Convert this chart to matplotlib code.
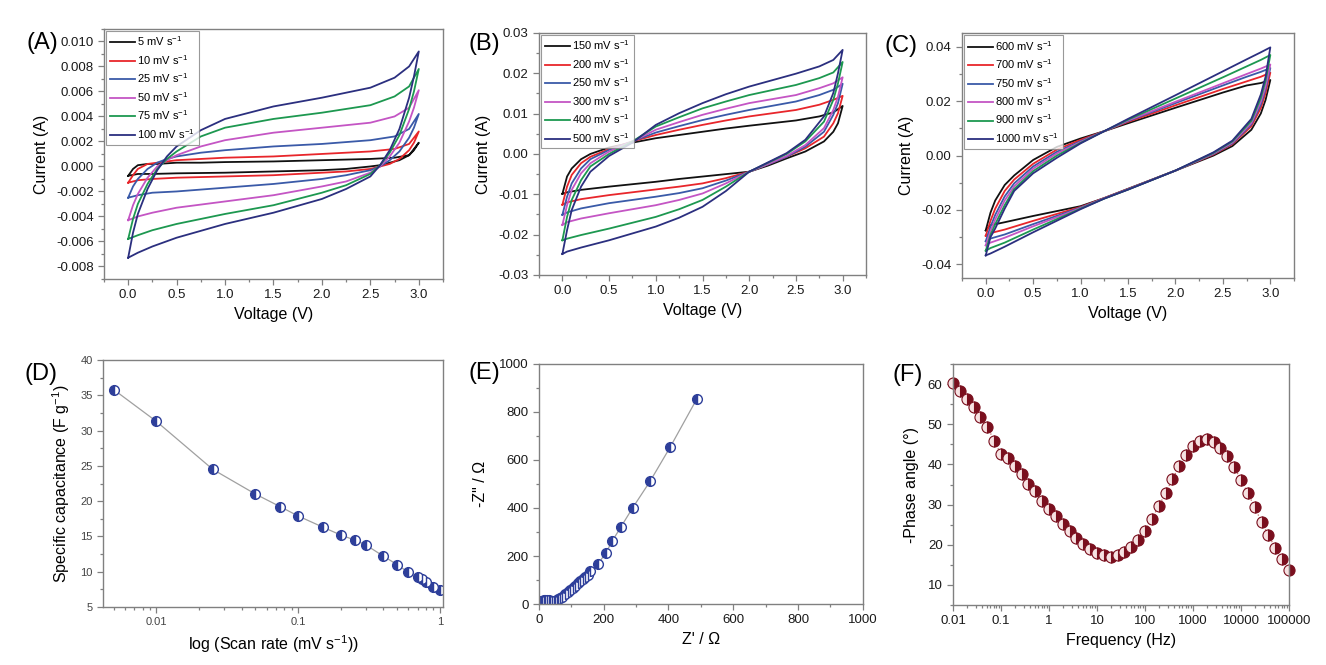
import matplotlib
matplotlib.use('Agg')
import matplotlib.pyplot as plt
from matplotlib.ticker import MultipleLocator, FormatStrFormatter, FixedLocator, FixedFormatter, LogLocator, NullFormatter

plt.rcParams['font.family'] = ['Liberation Sans', 'DejaVu Sans']
plt.rcParams['axes.unicode_minus'] = False
plt.rcParams['mathtext.fontset'] = 'custom'
plt.rcParams['mathtext.rm'] = 'Liberation Sans'
plt.rcParams['mathtext.it'] = 'Liberation Sans:italic'
plt.rcParams['mathtext.bf'] = 'Liberation Sans:bold'
plt.rcParams['mathtext.default'] = 'regular'

# colours of the six CV curves in each panel
cv_colors = ['#111111', '#e8262b', '#3a5aa8', '#c455c4', '#1d9850', '#2b2f7f']

# ---- (A) 5 - 100 mV/s ----
a_labels = ['5', '10', '25', '50', '75', '100']
a_v_up = [0, 0.05, 0.1, 0.2, 0.3, 0.4, 0.5, 0.75, 1.0, 1.5, 2.0, 2.5, 2.75, 2.9, 3.0]
a_v_down = [3.0, 2.95, 2.9, 2.8, 2.7, 2.6, 2.5, 2.25, 2.0, 1.5, 1.0, 0.5, 0.25, 0.1, 0.0]
a_up = [
    [-0.00075, -0.0002, 0.0001, 0.0002, 0.0002, 0.00025, 0.0003, 0.0003, 0.00035, 0.0004, 0.0005, 0.0006, 0.0007, 0.0009, 0.0019],
    [-0.0013, -0.0007, -0.0002, 0.0002, 0.0003, 0.0004, 0.0005, 0.0006, 0.0007, 0.0008, 0.0010, 0.0012, 0.0014, 0.0018, 0.0028],
    [-0.0025, -0.0016, -0.0010, -0.0002, 0.0003, 0.0006, 0.0008, 0.0011, 0.0013, 0.0016, 0.0018, 0.0021, 0.0024, 0.0030, 0.0042],
    [-0.0043, -0.0031, -0.0022, -0.0009, 0.0000, 0.0005, 0.0009, 0.0016, 0.0021, 0.0027, 0.0031, 0.0035, 0.0040, 0.0047, 0.0061],
    [-0.0058, -0.0042, -0.0030, -0.0014, -0.0002, 0.0006, 0.0012, 0.0024, 0.0031, 0.0038, 0.0043, 0.0049, 0.0056, 0.0064, 0.0078],
    [-0.0073, -0.0053, -0.0038, -0.0018, -0.0003, 0.0008, 0.0016, 0.0029, 0.0038, 0.0048, 0.0055, 0.0063, 0.0071, 0.0080, 0.0092],
]
a_down = [
    [0.0019, 0.0013, 0.0009, 0.0005, 0.0003, 0.0001, 0.0000, -0.0002, -0.0003, -0.0004, -0.0005, -0.00055, -0.0006, -0.0006, -0.00075],
    [0.0028, 0.0019, 0.0013, 0.0006, 0.0002, 0.0000, -0.0002, -0.0004, -0.0005, -0.0007, -0.0008, -0.0009, -0.0010, -0.0011, -0.0013],
    [0.0042, 0.0031, 0.0023, 0.0012, 0.0005, 0.0000, -0.0003, -0.0007, -0.0010, -0.0014, -0.0017, -0.0020, -0.0021, -0.0023, -0.0025],
    [0.0061, 0.0047, 0.0036, 0.0019, 0.0008, 0.0000, -0.0005, -0.0012, -0.0016, -0.0023, -0.0028, -0.0033, -0.0037, -0.0040, -0.0043],
    [0.0078, 0.0060, 0.0046, 0.0025, 0.0011, 0.0001, -0.0006, -0.0015, -0.0021, -0.0031, -0.0038, -0.0046, -0.0051, -0.0055, -0.0058],
    [0.0092, 0.0072, 0.0055, 0.0030, 0.0013, 0.0001, -0.0008, -0.0018, -0.0026, -0.0037, -0.0046, -0.0057, -0.0064, -0.0069, -0.0073],
]

# ---- (B) 150 - 500 mV/s ----
b_labels = ['150', '200', '250', '300', '400', '500']
b_v_up = [0, 0.05, 0.1, 0.2, 0.3, 0.5, 0.75, 1.0, 1.25, 1.5, 1.75, 2.0, 2.5, 2.75, 2.9, 3.0]
b_v_down = [3.0, 2.95, 2.9, 2.8, 2.6, 2.4, 2.2, 2.0, 1.75, 1.5, 1.25, 1.0, 0.5, 0.2, 0.05, 0.0]
b_up = [
    [-0.0099, -0.0056, -0.0036, -0.0013, 0.0000, 0.0016, 0.0028, 0.0039, 0.0047, 0.0055, 0.0063, 0.0070, 0.0083, 0.0093, 0.0103, 0.0119],
    [-0.0126, -0.0081, -0.0052, -0.0023, -0.0007, 0.0012, 0.0031, 0.0047, 0.0060, 0.0072, 0.0083, 0.0093, 0.0109, 0.0122, 0.0134, 0.0144],
    [-0.0151, -0.0106, -0.0073, -0.0036, -0.0013, 0.0010, 0.0031, 0.0053, 0.0069, 0.0084, 0.0097, 0.0109, 0.0130, 0.0146, 0.0159, 0.0174],
    [-0.0176, -0.0127, -0.0089, -0.0048, -0.0023, 0.0006, 0.0031, 0.0060, 0.0079, 0.0097, 0.0112, 0.0126, 0.0146, 0.0163, 0.0175, 0.0190],
    [-0.0214, -0.0156, -0.0114, -0.0065, -0.0031, 0.0000, 0.0031, 0.0068, 0.0091, 0.0113, 0.0130, 0.0146, 0.0171, 0.0188, 0.0202, 0.0228],
    [-0.0248, -0.0189, -0.0139, -0.0081, -0.0044, -0.0005, 0.0028, 0.0072, 0.0101, 0.0126, 0.0148, 0.0167, 0.0199, 0.0217, 0.0233, 0.0258],
]
b_down = [
    [0.0119, 0.0076, 0.0055, 0.0031, 0.0006, -0.0011, -0.0029, -0.0044, -0.0050, -0.0056, -0.0062, -0.0069, -0.0081, -0.0089, -0.0095, -0.0099],
    [0.0144, 0.0101, 0.0076, 0.0043, 0.0014, -0.0007, -0.0026, -0.0044, -0.0060, -0.0073, -0.0081, -0.0088, -0.0102, -0.0112, -0.0120, -0.0126],
    [0.0174, 0.0126, 0.0097, 0.0055, 0.0018, -0.0007, -0.0026, -0.0044, -0.0066, -0.0085, -0.0097, -0.0106, -0.0122, -0.0135, -0.0145, -0.0151],
    [0.0190, 0.0142, 0.0109, 0.0064, 0.0022, -0.0005, -0.0025, -0.0044, -0.0073, -0.0098, -0.0114, -0.0127, -0.0147, -0.0160, -0.0169, -0.0176],
    [0.0228, 0.0175, 0.0134, 0.0080, 0.0031, 0.0000, -0.0022, -0.0044, -0.0081, -0.0114, -0.0137, -0.0156, -0.0185, -0.0201, -0.0210, -0.0214],
    [0.0258, 0.0200, 0.0151, 0.0093, 0.0035, 0.0002, -0.0021, -0.0044, -0.0092, -0.0131, -0.0158, -0.0180, -0.0214, -0.0232, -0.0242, -0.0248],
]

# ---- (C) 600 - 1000 mV/s ----
c_labels = ['600', '700', '750', '800', '900', '1000']
c_v_up = [0, 0.05, 0.1, 0.2, 0.3, 0.5, 0.75, 1.0, 1.25, 1.5, 2.0, 2.5, 2.75, 2.9, 3.0]
c_v_down = [3.0, 2.95, 2.9, 2.8, 2.6, 2.4, 2.0, 1.5, 1.25, 1.0, 0.5, 0.2, 0.05, 0.0]
c_up = [
    [-0.0275, -0.0210, -0.0165, -0.0108, -0.0073, -0.0016, 0.0032, 0.0063, 0.0090, 0.0119, 0.0176, 0.0232, 0.0258, 0.0267, 0.0278],
    [-0.0295, -0.0240, -0.0195, -0.0130, -0.0088, -0.0030, 0.0022, 0.0058, 0.0090, 0.0124, 0.0185, 0.0245, 0.0273, 0.0290, 0.0305],
    [-0.0315, -0.0262, -0.0218, -0.0150, -0.0102, -0.0040, 0.0014, 0.0053, 0.0090, 0.0127, 0.0193, 0.0258, 0.0290, 0.0308, 0.0322],
    [-0.0330, -0.0278, -0.0235, -0.0165, -0.0113, -0.0048, 0.0008, 0.0050, 0.0090, 0.0129, 0.0198, 0.0266, 0.0300, 0.0320, 0.0335],
    [-0.0350, -0.0292, -0.0252, -0.0182, -0.0123, -0.0057, 0.0000, 0.0047, 0.0090, 0.0132, 0.0210, 0.0288, 0.0328, 0.0352, 0.0370],
    [-0.0367, -0.0300, -0.0268, -0.0195, -0.0130, -0.0065, -0.0008, 0.0045, 0.0090, 0.0135, 0.0222, 0.0310, 0.0354, 0.0380, 0.0398],
]
c_down = [
    [0.0278, 0.0205, 0.0155, 0.0095, 0.0035, 0.0000, -0.0055, -0.0122, -0.0156, -0.0186, -0.0222, -0.0245, -0.0256, -0.0275],
    [0.0305, 0.0230, 0.0175, 0.0108, 0.0042, 0.0004, -0.0055, -0.0123, -0.0156, -0.0189, -0.0240, -0.0272, -0.0285, -0.0295],
    [0.0322, 0.0245, 0.0188, 0.0115, 0.0045, 0.0006, -0.0055, -0.0124, -0.0157, -0.0191, -0.0252, -0.0290, -0.0305, -0.0315],
    [0.0335, 0.0255, 0.0198, 0.0120, 0.0048, 0.0008, -0.0055, -0.0124, -0.0157, -0.0193, -0.0260, -0.0302, -0.0320, -0.0330],
    [0.0370, 0.0275, 0.0212, 0.0128, 0.0052, 0.0010, -0.0055, -0.0125, -0.0158, -0.0195, -0.0272, -0.0320, -0.0340, -0.0350],
    [0.0398, 0.0290, 0.0225, 0.0135, 0.0055, 0.0012, -0.0055, -0.0125, -0.0158, -0.0197, -0.0282, -0.0335, -0.0360, -0.0367],
]

# ---- (D) specific capacitance vs scan rate ----
d_rate = [0.005, 0.01, 0.025, 0.05, 0.075, 0.1, 0.15, 0.2, 0.25, 0.3, 0.4, 0.5, 0.6, 0.7, 0.75, 0.8, 0.9, 1.0]
d_cap = [35.8, 31.3, 24.5, 21.0, 19.2, 17.9, 16.3, 15.2, 14.5, 13.8, 12.2, 11.0, 9.9, 9.2, 8.9, 8.5, 7.9, 7.4]

# ---- (E) Nyquist ----
e_zre = [5, 10, 15, 20, 25, 30, 35, 40, 45, 50, 55, 60, 65, 72, 80, 88, 96, 104, 111, 120, 127, 135, 142, 150,
         158, 183, 206, 227, 253, 289, 343, 405, 487]
e_zim = [12, 14, 15, 15, 16, 15, 14, 13, 13, 14, 16, 19, 24, 31, 40, 49, 58, 67, 76, 86, 94, 103, 112, 122,
         136, 168, 212, 264, 321, 400, 511, 653, 853]

# ---- (F) Bode phase ----
f_freq = [0.01, 0.0139, 0.0193, 0.0268, 0.0373, 0.0518, 0.072, 0.1, 0.139, 0.193, 0.268, 0.373, 0.518, 0.72,
          1, 1.39, 1.93, 2.68, 3.73, 5.18, 7.2, 10, 13.9, 19.3, 26.8, 37.3, 51.8, 72, 100, 139, 193, 268, 373,
          518, 720, 1000, 1390, 1930, 2680, 3730, 5180, 7200, 10000, 13900, 19300, 26800, 37300, 51800, 72000, 100000]
f_phase = [60.2, 58.2, 56.3, 54.3, 51.8, 49.4, 45.9, 42.5, 41.6, 39.6, 37.5, 35.2, 33.5, 30.9, 29.0, 27.1, 25.2,
           23.4, 21.8, 20.3, 19.0, 18.0, 17.4, 17.0, 17.4, 18.2, 19.5, 21.3, 23.5, 26.5, 29.6, 32.9, 36.4, 39.6,
           42.4, 44.5, 45.9, 46.3, 45.7, 44.2, 42.0, 39.3, 36.2, 32.8, 29.4, 25.6, 22.4, 19.2, 16.4, 13.7]

AX_GRAY = '#808080'
TICK_FS = 9.5
LABEL_FS = 11.5


def style_axes(ax, labelcolor='#1a1a1a', fs=TICK_FS):
    for s in ax.spines.values():
        s.set_color(AX_GRAY)
        s.set_linewidth(1.0)
    ax.tick_params(which='both', direction='out', top=False, right=False,
                   color=AX_GRAY, labelcolor=labelcolor, labelsize=fs, width=0.9)
    ax.tick_params(which='major', length=4)
    ax.tick_params(which='minor', length=2.5)


def draw_cv(ax, v_up, v_down, ups, downs, labels):
    for up, down, lab, col in zip(ups, downs, labels, cv_colors):
        ax.plot(v_up + v_down[1:], up + down[1:], color=col, lw=1.3,
                label=lab + r' mV s$^{-1}$')
    ax.set_xlim(-0.25, 3.25)
    ax.xaxis.set_major_locator(MultipleLocator(0.5))
    ax.xaxis.set_minor_locator(MultipleLocator(0.25))
    ax.xaxis.set_major_formatter(FormatStrFormatter('%.1f'))
    ax.set_xlabel('Voltage (V)', fontsize=LABEL_FS)
    ax.set_ylabel('Current (A)', fontsize=LABEL_FS, labelpad=5)
    leg = ax.legend(loc='upper left', fontsize=8, frameon=True, fancybox=False,
                    edgecolor=AX_GRAY, handlelength=2.3, handletextpad=0.2,
                    labelspacing=0.42, borderaxespad=0.15, borderpad=0.35)
    leg.get_frame().set_linewidth(0.8)
    style_axes(ax)


fig = plt.figure(figsize=(13.26, 6.65), dpi=100, facecolor='white')

# (A)
ax = fig.add_axes([0.0784, 0.5805, 0.2557, 0.376])
draw_cv(ax, a_v_up, a_v_down, a_up, a_down, a_labels)
ax.set_ylim(-0.009, 0.011)
ax.yaxis.set_major_locator(MultipleLocator(0.002))
ax.yaxis.set_minor_locator(MultipleLocator(0.001))
ax.yaxis.set_major_formatter(FormatStrFormatter('%.3f'))

# (B)
ax = fig.add_axes([0.4065, 0.5865, 0.2466, 0.364])
draw_cv(ax, b_v_up, b_v_down, b_up, b_down, b_labels)
ax.set_ylim(-0.03, 0.03)
ax.yaxis.set_major_locator(MultipleLocator(0.01))
ax.yaxis.set_minor_locator(MultipleLocator(0.005))
ax.yaxis.set_major_formatter(FormatStrFormatter('%.2f'))

# (C)
ax = fig.add_axes([0.7255, 0.582, 0.2504, 0.368])
draw_cv(ax, c_v_up, c_v_down, c_up, c_down, c_labels)
ax.set_ylim(-0.045, 0.045)
ax.yaxis.set_major_locator(MultipleLocator(0.02))
ax.yaxis.set_minor_locator(MultipleLocator(0.01))
ax.yaxis.set_major_formatter(FormatStrFormatter('%.2f'))

# (D)
ax = fig.add_axes([0.0777, 0.0872, 0.2563, 0.3714])
ax.plot(d_rate, d_cap, color='#a0a0a0', lw=0.9, zorder=1)
ax.plot(d_rate, d_cap, ls='none', marker='o', ms=7, fillstyle='left',
        mfc='#2e3f9a', markerfacecoloralt='white', mec='#2e3f9a', mew=1.0, zorder=2)
ax.set_xscale('log')
ax.set_xlim(0.0042, 1.05)
ax.set_ylim(5, 40)
ax.xaxis.set_major_locator(FixedLocator([0.01, 0.1, 1]))
ax.xaxis.set_major_formatter(FixedFormatter(['0.01', '0.1', '1']))
ax.xaxis.set_minor_locator(LogLocator(base=10, subs=range(2, 10)))
ax.xaxis.set_minor_formatter(NullFormatter())
ax.yaxis.set_major_locator(MultipleLocator(5))
ax.yaxis.set_minor_locator(MultipleLocator(2.5))
ax.set_xlabel(r'log (Scan rate (mV s$^{-1}$))', fontsize=LABEL_FS)
ax.set_ylabel(r'Specific capacitance (F g$^{-1}$)', fontsize=LABEL_FS, labelpad=6)
style_axes(ax, labelcolor='#444444', fs=8)

# (E)
ax = fig.add_axes([0.4065, 0.0917, 0.2441, 0.361])
ax.plot(e_zre, e_zim, color='#a0a0a0', lw=0.9, zorder=1)
ax.plot(e_zre, e_zim, ls='none', marker='o', ms=7, fillstyle='left',
        mfc='#2e3f9a', markerfacecoloralt='white', mec='#2e3f9a', mew=1.0, zorder=2)
ax.set_xlim(0, 1000)
ax.set_ylim(0, 1000)
ax.xaxis.set_major_locator(MultipleLocator(200))
ax.xaxis.set_minor_locator(MultipleLocator(100))
ax.yaxis.set_major_locator(MultipleLocator(200))
ax.yaxis.set_minor_locator(MultipleLocator(100))
ax.set_xlabel("Z' / \u03a9", fontsize=LABEL_FS)
ax.set_ylabel('-Z" / \u03a9', fontsize=LABEL_FS, labelpad=8)
style_axes(ax)

# (F)
ax = fig.add_axes([0.7187, 0.0902, 0.2534, 0.3624])
ax.plot(f_freq, f_phase, color='#c46a6a', lw=0.9, ls=':', zorder=1)
ax.plot(f_freq, f_phase, ls='none', marker='o', ms=8, fillstyle='right',
        mfc='#7a0f1e', markerfacecoloralt='#f6e2e2', mec='#7a0f1e', mew=0.8,
        zorder=2, clip_on=False)
ax.set_xscale('log')
ax.set_xlim(0.01, 100000)
ax.set_ylim(5, 65)
ticks_f = [0.01, 0.1, 1, 10, 100, 1000, 10000, 100000]
ax.xaxis.set_major_locator(FixedLocator(ticks_f))
ax.xaxis.set_major_formatter(FixedFormatter(['0.01', '0.1', '1', '10', '100', '1000', '10000', '100000']))
ax.xaxis.set_minor_locator(LogLocator(base=10, subs=range(2, 10)))
ax.xaxis.set_minor_formatter(NullFormatter())
ax.yaxis.set_major_locator(MultipleLocator(10))
ax.yaxis.set_minor_locator(MultipleLocator(5))
ax.set_xlabel('Frequency (Hz)', fontsize=LABEL_FS)
ax.set_ylabel('-Phase angle (\u00b0)', fontsize=LABEL_FS, labelpad=6)
style_axes(ax)

# panel letters (pixel positions)
W, H = 1326, 665
for letter, px, py in [('(A)', 26, 43), ('(B)', 468, 44), ('(C)', 885, 46),
                       ('(D)', 25, 374), ('(E)', 468, 373), ('(F)', 892, 375)]:
    fig.text(px / W, 1 - py / H, letter, fontsize=17, ha='left', va='center')

fig.savefig('out.png', dpi=100, facecolor='white')
